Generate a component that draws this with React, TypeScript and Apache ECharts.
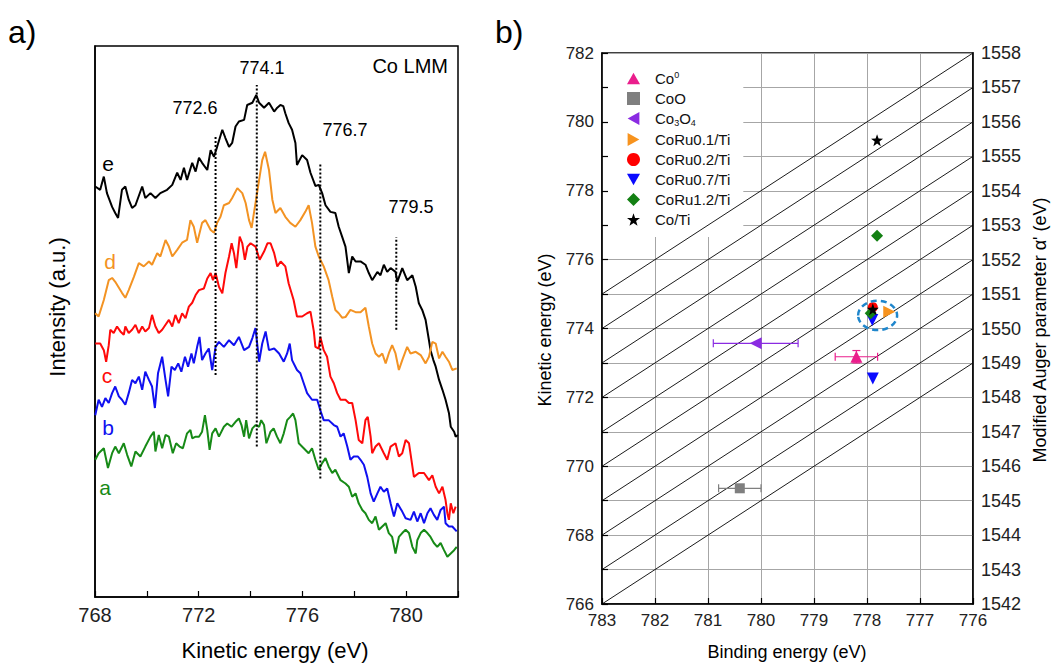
import React, { useEffect, useRef } from 'react';
import * as echarts from 'echarts';

// ---------- Panel a: Co LMM spectra (kinetic energy eV, intensity a.u.) ----------
const curveE: number[][] = [[768.01,74.5],[768.20,73.9],[768.34,76.3],[768.46,73.3],[768.66,70.8],[768.78,69.7],[768.89,68.8],[769.04,73.9],[769.17,74.5],[769.30,72.1],[769.43,70.6],[769.56,71.1],[769.82,74.5],[769.94,72.4],[770.14,73.3],[770.33,72.4],[770.52,73.3],[770.78,73.9],[770.98,74.8],[771.17,77.0],[771.30,75.7],[771.43,77.9],[771.55,75.7],[771.75,78.8],[771.88,77.2],[772.01,79.7],[772.13,78.8],[772.33,77.5],[772.46,81.1],[772.59,79.9],[772.71,81.7],[772.91,84.8],[773.03,83.3],[773.17,81.7],[773.29,82.4],[773.42,85.4],[773.55,86.3],[773.75,86.6],[773.87,89.3],[774.07,89.7],[774.22,91.1],[774.33,89.7],[774.52,88.8],[774.71,89.7],[774.91,88.1],[775.03,88.8],[775.15,89.3],[775.26,89.1],[775.34,87.8],[775.47,86.0],[775.60,84.8],[775.73,82.4],[775.79,78.4],[775.99,80.2],[776.18,79.3],[776.31,77.0],[776.50,74.6],[776.63,74.8],[776.76,73.3],[776.89,71.1],[777.08,69.9],[777.27,69.7],[777.40,67.2],[777.53,65.4],[777.66,63.6],[777.79,58.8],[777.92,61.8],[778.05,60.9],[778.24,60.9],[778.43,60.3],[778.56,58.8],[778.69,57.5],[778.89,59.0],[779.01,58.4],[779.14,60.3],[779.27,59.0],[779.40,59.7],[779.59,59.0],[779.66,57.2],[779.85,59.7],[780.04,57.5],[780.24,58.4],[780.37,56.3],[780.49,53.3],[780.62,52.1],[780.75,50.3],[780.88,46.6],[780.94,44.8],[781.05,43.0],[781.14,41.8],[781.27,39.4],[781.40,37.6],[781.52,35.8],[781.65,33.4],[781.72,30.9],[781.85,30.0],[781.91,29.1],[781.99,29.4]];

const curveD: number[][] = [[768.01,51.5],[768.14,50.9],[768.34,53.9],[768.53,57.5],[768.66,57.9],[768.78,57.2],[769.04,55.2],[769.17,54.3],[769.30,55.7],[769.50,58.1],[769.69,60.6],[769.88,60.0],[770.08,60.9],[770.20,60.3],[770.40,62.4],[770.52,61.8],[770.72,64.8],[770.85,63.6],[770.98,61.8],[771.17,63.0],[771.36,64.3],[771.55,64.8],[771.68,68.4],[771.81,67.2],[771.94,64.3],[772.13,67.9],[772.26,68.4],[772.46,66.6],[772.59,66.1],[772.71,67.9],[772.84,69.0],[772.97,71.1],[773.17,71.5],[773.29,72.4],[773.49,74.2],[773.68,73.3],[773.81,71.5],[773.94,68.4],[774.04,67.0],[774.19,71.5],[774.33,75.7],[774.45,79.3],[774.56,80.8],[774.71,77.5],[774.84,72.1],[774.96,69.7],[775.15,70.6],[775.34,69.0],[775.53,67.9],[775.73,67.2],[775.92,68.4],[776.11,69.9],[776.24,71.1],[776.37,67.9],[776.50,63.6],[776.63,61.8],[776.82,60.0],[777.01,57.5],[777.15,54.5],[777.27,52.1],[777.40,51.5],[777.53,50.7],[777.66,50.8],[777.85,52.1],[778.05,51.7],[778.24,51.7],[778.43,52.5],[778.56,49.1],[778.69,46.0],[778.82,44.2],[778.95,43.6],[779.08,44.2],[779.21,42.4],[779.33,44.2],[779.46,45.7],[779.59,44.2],[779.72,41.2],[779.85,43.0],[780.04,45.4],[780.17,44.2],[780.37,44.5],[780.56,43.9],[780.75,42.4],[780.88,43.6],[781.01,46.3],[781.14,46.0],[781.27,43.3],[781.40,44.5],[781.52,43.6],[781.65,42.7],[781.78,41.2],[781.95,41.5]];

const curveC: number[][] = [[768.01,46.0],[768.20,46.0],[768.34,44.8],[768.43,42.7],[768.53,45.7],[768.59,48.5],[768.72,47.9],[768.85,49.1],[768.98,48.2],[769.11,47.6],[769.17,49.1],[769.30,47.9],[769.43,48.5],[769.56,49.4],[769.69,47.9],[769.82,49.1],[769.94,48.2],[770.08,48.8],[770.20,51.2],[770.33,49.1],[770.46,47.9],[770.59,48.5],[770.72,49.4],[770.85,50.3],[770.98,49.1],[771.10,51.2],[771.23,49.7],[771.36,51.5],[771.49,50.6],[771.62,52.7],[771.75,53.4],[771.88,54.8],[772.01,55.7],[772.20,56.0],[772.33,57.8],[772.46,58.8],[772.55,57.5],[772.65,58.8],[772.78,56.3],[772.91,55.1],[773.03,58.8],[773.17,61.8],[773.27,64.2],[773.36,62.4],[773.45,59.7],[773.58,65.4],[773.68,64.2],[773.78,61.2],[773.88,63.6],[774.00,64.2],[774.19,63.6],[774.35,61.2],[774.52,62.7],[774.65,64.2],[774.77,64.2],[774.91,62.4],[775.03,60.0],[775.16,60.9],[775.34,60.0],[775.47,56.9],[775.66,53.9],[775.79,50.9],[775.99,50.9],[776.18,51.5],[776.31,51.8],[776.44,48.2],[776.50,45.4],[776.63,45.1],[776.69,47.2],[776.82,44.8],[776.95,43.6],[777.08,40.0],[777.21,38.8],[777.34,37.0],[777.47,35.8],[777.66,35.8],[777.79,35.2],[777.92,35.2],[778.05,32.1],[778.17,28.5],[778.31,27.9],[778.43,32.1],[778.52,32.7],[778.63,29.1],[778.69,26.1],[778.82,27.3],[778.95,27.9],[779.14,26.1],[779.27,24.9],[779.40,27.3],[779.59,27.9],[779.72,25.5],[779.85,26.1],[779.98,28.5],[780.11,27.9],[780.30,21.8],[780.49,22.5],[780.69,22.5],[780.88,21.2],[781.01,22.1],[781.14,20.0],[781.27,18.8],[781.40,20.0],[781.52,17.6],[781.59,15.2],[781.65,14.0],[781.72,17.0],[781.82,15.2],[781.91,16.4]];

const curveB: number[][] = [[768.01,33.0],[768.14,35.8],[768.27,34.5],[768.40,36.1],[768.53,35.2],[768.66,37.0],[768.78,38.2],[768.92,36.4],[769.04,35.8],[769.17,34.9],[769.30,37.0],[769.43,39.4],[769.56,38.8],[769.69,40.0],[769.82,37.6],[769.94,40.9],[770.08,39.4],[770.20,38.2],[770.31,34.3],[770.43,40.6],[770.59,43.6],[770.72,39.4],[770.82,36.4],[770.95,41.8],[771.08,41.2],[771.21,42.4],[771.33,40.9],[771.47,43.6],[771.59,41.8],[771.72,44.2],[771.81,42.4],[771.94,45.4],[772.03,47.2],[772.13,43.0],[772.26,44.2],[772.39,45.1],[772.52,41.2],[772.65,45.4],[772.78,46.3],[772.97,45.4],[773.17,46.6],[773.36,45.7],[773.55,47.2],[773.75,44.8],[773.94,45.4],[774.07,47.0],[774.19,48.8],[774.33,42.7],[774.45,46.0],[774.58,48.2],[774.71,44.8],[774.91,45.1],[775.10,44.2],[775.28,42.7],[775.41,44.2],[775.51,46.0],[775.60,43.0],[775.79,41.2],[775.92,40.6],[776.05,38.8],[776.18,37.0],[776.37,35.8],[776.57,35.8],[776.69,33.9],[776.82,32.1],[777.01,32.1],[777.21,31.2],[777.34,30.9],[777.47,29.1],[777.59,29.7],[777.73,27.3],[777.85,24.9],[777.98,25.5],[778.14,25.5],[778.24,24.9],[778.37,24.0],[778.50,21.8],[778.63,18.8],[778.75,17.3],[778.89,18.8],[779.01,20.0],[779.14,19.1],[779.27,19.7],[779.40,17.0],[779.53,14.6],[779.66,17.0],[779.85,15.5],[779.98,14.3],[780.17,14.0],[780.30,15.5],[780.43,13.7],[780.56,15.2],[780.69,13.4],[780.82,15.2],[780.94,16.1],[781.07,14.9],[781.20,14.0],[781.33,15.8],[781.46,16.4],[781.52,13.4],[781.65,12.8],[781.78,12.8],[781.95,11.9]];

const curveA: number[][] = [[768.01,24.9],[768.14,26.1],[768.34,27.0],[768.50,23.4],[768.66,26.1],[768.78,27.3],[768.92,26.1],[769.11,27.9],[769.24,25.8],[769.40,23.7],[769.56,26.4],[769.75,25.5],[769.94,27.3],[770.14,29.1],[770.27,30.0],[770.33,26.4],[770.46,29.4],[770.59,27.0],[770.72,29.4],[770.85,29.1],[771.00,26.1],[771.13,27.9],[771.26,27.3],[771.39,27.0],[771.55,29.7],[771.68,30.3],[771.75,28.8],[771.88,29.1],[772.01,29.1],[772.13,30.0],[772.24,33.0],[772.33,30.3],[772.42,26.7],[772.52,29.7],[772.65,30.6],[772.78,29.1],[772.97,30.9],[773.10,31.5],[773.27,30.9],[773.42,31.8],[773.55,32.4],[773.65,31.2],[773.75,29.1],[773.83,32.1],[773.94,28.8],[774.07,30.6],[774.19,31.2],[774.33,30.9],[774.41,32.1],[774.52,31.2],[774.61,27.9],[774.77,30.0],[774.89,30.6],[775.02,29.1],[775.15,27.9],[775.28,29.7],[775.41,32.1],[775.53,32.7],[775.64,33.3],[775.73,32.1],[775.86,27.9],[776.05,27.0],[776.24,26.1],[776.37,27.0],[776.50,24.9],[776.63,23.1],[776.76,24.3],[776.89,25.2],[777.01,23.7],[777.15,22.5],[777.27,23.1],[777.47,21.2],[777.66,20.6],[777.79,20.0],[777.92,18.2],[778.05,18.8],[778.17,17.0],[778.31,15.8],[778.43,15.2],[778.56,14.0],[778.69,13.4],[778.82,14.6],[778.95,12.2],[779.08,12.8],[779.21,13.4],[779.33,11.6],[779.46,10.9],[779.59,7.9],[779.72,10.9],[779.85,11.6],[779.98,12.2],[780.11,11.6],[780.24,9.1],[780.37,7.9],[780.43,10.3],[780.56,11.6],[780.69,12.2],[780.82,11.6],[780.94,10.9],[781.07,9.8],[781.20,9.1],[781.33,9.8],[781.46,8.5],[781.59,7.3],[781.72,7.9],[781.85,8.5],[781.95,9.1]];

const curveNames = ['e', 'd', 'c', 'b', 'a'];
const curveColors = ['#000000', '#f39323', '#ff0a0a', '#1010f0', '#178a17'];
const curves = [curveE, curveD, curveC, curveB, curveA];

const peakEnergies = [772.65, 774.24, 776.69, 779.62];
const peakTops = [83.6, 92.9, 78.8, 65.3];
const peakBottoms = [40.3, 27.3, 21.5, 48.5];
const peakLabels = ['772.6', '774.1', '776.7', '779.5'];

// ---------- Panel b: Wagner plot ----------
const alphaLines = [1549, 1550, 1551, 1552, 1553, 1554, 1555, 1556, 1557, 1558];

const coZero = [[778.2, 773.18]];
const coO = [[780.4, 769.36]];
const co3o4 = [[780.1, 773.57]];
const coRu01 = [[777.58, 774.49]];
const coRu02 = [[777.89, 774.62]];
const coRu07 = [[777.9, 774.25], [777.89, 772.55]];
const coRu12 = [[777.81, 776.69], [777.93, 774.44]];
const coTi = [[777.81, 779.47], [777.89, 774.56]];

// [BE, KE, BE low, BE high, KE low, KE high]
const coZeroErr = [[778.2, 773.18, 778.6, 777.8, 773.0, 773.36]];
const coOErr = [[780.4, 769.36, 780.8, 780.0, 769.36, 769.36]];
const co3o4Err = [[780.1, 773.57, 780.9, 779.3, 773.57, 773.57]];

const clusterCenter = [777.8, 774.38];

const STAR = 'path://M0,-10L2.35,-3.24L9.51,-3.09L3.8,1.24L5.88,8.09L0,4L-5.88,8.09L-3.8,1.24L-9.51,-3.09L-2.35,-3.24Z';
const TRI_UP = 'path://M5,0L10,9L0,9Z';
const TRI_LEFT = 'path://M0,5L9,0L9,10Z';
const TRI_RIGHT = 'path://M9,5L0,0L0,10Z';
const TRI_DOWN = 'path://M0,0L10,0L5,9Z';
const FONT = '"Liberation Sans", Arial, sans-serif';

function errSeries(name: string, data: number[][], color: string) {
  return {
    type: 'custom', name, xAxisIndex: 1, yAxisIndex: 1, data, z: 8, silent: true,
    renderItem: (params: any, api: any) => {
      const x = api.value(0), y = api.value(1);
      const l = api.coord([api.value(2), y]);
      const r = api.coord([api.value(3), y]);
      const b = api.coord([x, api.value(4)]);
      const t = api.coord([x, api.value(5)]);
      const cap = 4;
      const st = { stroke: color, lineWidth: 1.2 };
      const ch: any[] = [
        { type: 'line', shape: { x1: l[0], y1: l[1], x2: r[0], y2: r[1] }, style: st },
        { type: 'line', shape: { x1: l[0], y1: l[1] - cap, x2: l[0], y2: l[1] + cap }, style: st },
        { type: 'line', shape: { x1: r[0], y1: r[1] - cap, x2: r[0], y2: r[1] + cap }, style: st },
      ];
      if (Math.abs(b[1] - t[1]) > 0.5) {
        ch.push({ type: 'line', shape: { x1: b[0], y1: b[1], x2: t[0], y2: t[1] }, style: st });
        ch.push({ type: 'line', shape: { x1: t[0] - cap, y1: t[1], x2: t[0] + cap, y2: t[1] }, style: st });
        ch.push({ type: 'line', shape: { x1: b[0] - cap, y1: b[1], x2: b[0] + cap, y2: b[1] }, style: st });
      }
      return { type: 'group', children: ch };
    },
  };
}

function pointSeries(name: string, data: number[][], symbol: string, size: number, color: string) {
  return {
    type: 'scatter', name, xAxisIndex: 1, yAxisIndex: 1, data, symbol, symbolSize: size,
    itemStyle: { color, opacity: 1 }, z: 10,
  };
}

export default function App() {
  const ref = useRef<HTMLDivElement>(null);
  useEffect(() => {
    document.body.style.margin = '0';
    const chart = echarts.init(ref.current as HTMLDivElement, undefined, { renderer: 'svg' });

    const spectra = curves.map((c, i) => ({
      type: 'line', name: curveNames[i], xAxisIndex: 0, yAxisIndex: 0, data: c, showSymbol: false,
      lineStyle: { color: curveColors[i], width: 2 }, z: 3,
    }));
    const dotted = peakEnergies.map((e, i) => ({
      type: 'line', xAxisIndex: 0, yAxisIndex: 0, showSymbol: false, z: 4,
      data: [[e, peakBottoms[i]], [e, peakTops[i]]],
      lineStyle: { color: '#000', width: 2, type: [2, 2] },
    }));
    const diagonals = alphaLines.map((a) => ({
      type: 'line', xAxisIndex: 1, yAxisIndex: 1, showSymbol: false, z: 5, silent: true,
      data: [[783, a - 783], [776, a - 776]],
      lineStyle: { color: '#000', width: 0.9 },
    }));

    const txt = (text: string, x: number, y: number, size: number, color = '#000', align = 'center', rot = 0) => ({
      type: 'text', x, y, rotation: rot, z: 30,
      style: { text, fill: color, font: `${size}px ${FONT}`, align, verticalAlign: 'middle' },
    });

    const graphics: any[] = [
      txt('a)', 8, 32, 32, '#000', 'left'),
      txt('b)', 495, 32, 32, '#000', 'left'),
      txt('Co LMM', 448, 66, 20, '#000', 'right'),
      txt(peakLabels[0], 195, 108, 18),
      txt(peakLabels[1], 262, 68, 18),
      txt(peakLabels[2], 345, 130, 18),
      txt(peakLabels[3], 411, 207, 18),
      txt('e', 108, 163, 21, curveColors[0]),
      txt('d', 110, 261, 21, curveColors[1]),
      txt('c', 107, 375, 21, curveColors[2]),
      txt('b', 108, 427, 21, curveColors[3]),
      txt('a', 105, 487, 21, curveColors[4]),
      txt('Intensity (a.u.)', 57, 307, 22, '#000', 'center', Math.PI / 2),
      txt('Kinetic energy (eV)', 275, 650, 22),
      txt('Kinetic energy (eV)', 545, 330, 18, '#000', 'center', Math.PI / 2),
      txt('Binding energy (eV)', 787, 652, 18),
      txt("Modified Auger parameter α' (eV)", 1040, 330, 18, '#000', 'center', Math.PI / 2),
    ];

    const axisLabelA = { fontSize: 20, color: '#222', fontFamily: FONT, margin: 8 };
    const axisLabelB = { fontSize: 17, color: '#222', fontFamily: FONT, margin: 8 };

    chart.setOption({
      animation: false,
      textStyle: { fontFamily: FONT },
      grid: [
        { left: 95, top: 46, width: 363, height: 551, show: true, borderColor: '#000', borderWidth: 1.5, backgroundColor: 'transparent' },
        { left: 602, top: 53, width: 371, height: 551, show: true, borderColor: '#000', borderWidth: 1.5, backgroundColor: 'transparent' },
      ],
      xAxis: [
        {
          gridIndex: 0, type: 'value', min: 768, max: 782, interval: 2,
          axisLine: { show: true, lineStyle: { color: '#000', width: 1.5 } },
          axisTick: { show: true, inside: true, length: 6, lineStyle: { color: '#000', width: 1.2 } },
          axisLabel: { ...axisLabelA, formatter: (v: number) => (v % 4 === 0 ? String(v) : '') },
          splitLine: { show: false },
        },
        {
          gridIndex: 1, type: 'value', min: 776, max: 783, interval: 1, inverse: true,
          axisLine: { show: true, lineStyle: { color: '#000', width: 1.5 } },
          axisTick: { show: true, inside: true, length: 6, lineStyle: { color: '#000', width: 1.2 } },
          axisLabel: { ...axisLabelB, formatter: (v: number) => String(v) },
          splitLine: { show: true, lineStyle: { color: '#a6a6a6', width: 1 } },
        },
      ],
      yAxis: [
        {
          gridIndex: 0, type: 'value', min: 0, max: 100,
          axisLine: { show: true, lineStyle: { color: '#000', width: 1.5 } },
          axisTick: { show: false }, axisLabel: { show: false }, splitLine: { show: false },
        },
        {
          gridIndex: 1, type: 'value', min: 766, max: 782, interval: 1,
          axisLine: { show: true, lineStyle: { color: '#000', width: 1.5 } },
          axisTick: { show: true, inside: true, length: 6, lineStyle: { color: '#000', width: 1.2 } },
          axisLabel: { ...axisLabelB, formatter: (v: number) => (v % 2 === 0 ? String(v) : '') },
          splitLine: { show: true, lineStyle: { color: '#a6a6a6', width: 1 } },
        },
        {
          gridIndex: 1, type: 'value', min: 1542, max: 1558, interval: 1, position: 'right',
          axisLine: { show: true, lineStyle: { color: '#000', width: 1.5 } },
          axisTick: { show: false },
          axisLabel: { ...axisLabelB, fontSize: 18, formatter: (v: number) => String(v) },
          splitLine: { show: false },
        },
      ],
      legend: {
        orient: 'vertical', left: 608, top: 54,
        padding: [16, 13, 10, 19], itemGap: 5, itemWidth: 13, itemHeight: 13,
        backgroundColor: '#ffffff', selectedMode: false, z: 4,
        data: ['Co0', 'CoO', 'Co3O4', 'CoRu0.1/Ti', 'CoRu0.2/Ti', 'CoRu0.7/Ti', 'CoRu1.2/Ti', 'Co/Ti'],
        formatter: (n: string) => (n === 'Co0' ? 'Co{sup|0}' : n === 'Co3O4' ? 'Co{sub|3}O{sub|4}' : n),
        textStyle: {
          fontSize: 15, color: '#111', fontFamily: FONT, padding: [0, 0, 0, 10],
          rich: {
            sup: { fontSize: 9, fontFamily: FONT, color: '#111', padding: [0, 0, 8, 0] },
            sub: { fontSize: 9, fontFamily: FONT, color: '#111', padding: [8, 0, 0, 0] },
          },
        },
      },
      graphic: { elements: graphics },
      series: [
        ...spectra,
        ...dotted,
        ...diagonals,
        errSeries('err0', coZeroErr, '#ea1e8c'),
        errSeries('err1', coOErr, '#7f7f7f'),
        errSeries('err2', co3o4Err, '#8a2be2'),
        pointSeries('Co0', coZero, TRI_UP, 12, '#ea1e8c'),
        pointSeries('CoO', coO, 'rect', 10, '#7f7f7f'),
        pointSeries('Co3O4', co3o4, TRI_LEFT, 12, '#8a2be2'),
        pointSeries('CoRu0.1/Ti', coRu01, TRI_RIGHT, 12, '#f7931e'),
        pointSeries('CoRu0.2/Ti', coRu02, 'circle', 10, '#ff0000'),
        pointSeries('CoRu0.7/Ti', coRu07, TRI_DOWN, 12, '#0a0aff'),
        pointSeries('CoRu1.2/Ti', coRu12, 'diamond', 12, '#138013'),
        pointSeries('Co/Ti', coTi, STAR, 12, '#000000'),
      ],
    });

    const c = chart.convertToPixel({ xAxisIndex: 1, yAxisIndex: 1 }, clusterCenter) as number[];
    chart.setOption({
      graphic: {
        elements: [
          ...graphics,
          {
            type: 'ellipse', z: 40, shape: { cx: c[0], cy: c[1], rx: 19.5, ry: 14.7 },
            style: { fill: 'none', stroke: '#1f86cc', lineWidth: 2.5, lineDash: [6, 4] },
          },
        ],
      },
    });

    return () => chart.dispose();
  }, []);
  return <div ref={ref} style={{ width: 1053, height: 663 }} />;
}
